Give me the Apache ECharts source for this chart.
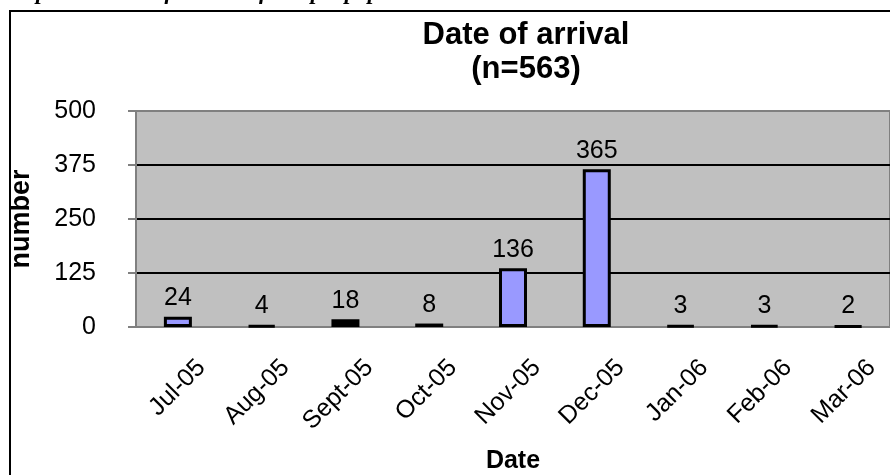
<!DOCTYPE html>
<html>
<head>
<meta charset="utf-8">
<script src="https://cdn.jsdelivr.net/npm/echarts@6/dist/echarts.min.js"></script>
<style>
  html, body { margin: 0; padding: 0; background: #fff; }
  #chart { width: 890px; height: 475px; }
</style>
</head>
<body>
<div id="chart"></div>
<script>
// Month of arrival and number of arrivals in each month
const months = ['Jul-05', 'Aug-05', 'Sept-05', 'Oct-05', 'Nov-05', 'Dec-05', 'Jan-06', 'Feb-06', 'Mar-06'];
const arrivals = [24, 4, 18, 8, 136, 365, 3, 3, 2];
const yTicks = [0, 125, 250, 375, 500];

const SANS = '"Liberation Sans", Arial, sans-serif';

const barData = arrivals.map(function (v, i) {
  // the September bar is shown solid black
  return months[i] === 'Sept-05'
    ? { value: v, itemStyle: { color: '#000000' } }
    : v;
});

const chart = echarts.init(document.getElementById('chart'), null, { renderer: 'canvas' });

chart.setOption({
  backgroundColor: '#ffffff',
  animation: false,
  title: {
    text: 'Date of arrival\n(n=563)',
    left: 521,
    top: 13,
    textAlign: 'center',
    textStyle: {
      fontFamily: SANS,
      fontSize: 31,
      fontWeight: 'bold',
      color: '#000',
      lineHeight: 34
    }
  },
  graphic: [
    {
      type: 'text',
      left: -1,
      top: -18,
      style: {
        text: 'Graph 2 Month of arrival of sample population',
        font: 'italic bold 23px "Liberation Serif", "Times New Roman", serif',
        fill: '#000'
      }
    },
    {
      type: 'rect',
      shape: { x: 10, y: 11, width: 1000, height: 1000 },
      style: { fill: 'none', stroke: '#000', lineWidth: 2 },
      silent: true
    }
  ],
  grid: {
    left: 135,
    top: 111,
    width: 765,
    height: 218,
    show: true,
    backgroundColor: '#C0C0C0',
    borderColor: '#808080',
    borderWidth: 2
  },
  xAxis: {
    type: 'category',
    data: months,
    name: 'Date',
    nameLocation: 'middle',
    nameGap: 122,
    nameTextStyle: { fontFamily: SANS, fontSize: 25, fontWeight: 'bold', color: '#000' },
    axisLine: { lineStyle: { color: '#808080', width: 2 } },
    axisTick: { length: 8, lineStyle: { color: '#808080', width: 2 } },
    axisLabel: {
      rotate: 45,
      interval: 0,
      margin: 13,
      align: 'right',
      verticalAlign: 'top',
      padding: [21, 0, 0, 0],
      fontFamily: SANS,
      fontSize: 25,
      color: '#000'
    },
    splitLine: { show: false }
  },
  yAxis: {
    type: 'value',
    min: yTicks[0],
    max: yTicks[yTicks.length - 1],
    interval: yTicks[1] - yTicks[0],
    name: 'number',
    nameLocation: 'middle',
    nameGap: 101,
    nameTextStyle: { fontFamily: SANS, fontSize: 27, fontWeight: 'bold', color: '#000' },
    axisLine: { show: true, lineStyle: { color: '#808080', width: 2 } },
    axisTick: { show: true, length: 8, lineStyle: { color: '#808080', width: 2 } },
    axisLabel: { margin: 40, fontFamily: SANS, fontSize: 25, color: '#000' },
    splitLine: {
      show: true,
      lineStyle: { color: ['#000', '#000', '#000', '#000', '#808080'], width: 2 }
    }
  },
  series: [{
    type: 'bar',
    data: barData,
    barWidth: 28,
    itemStyle: { color: '#9999FF', borderColor: '#000', borderWidth: 3 },
    label: {
      show: true,
      position: 'top',
      distance: 6,
      fontFamily: SANS,
      fontSize: 25,
      color: '#000'
    }
  }]
});
</script>
</body>
</html>
